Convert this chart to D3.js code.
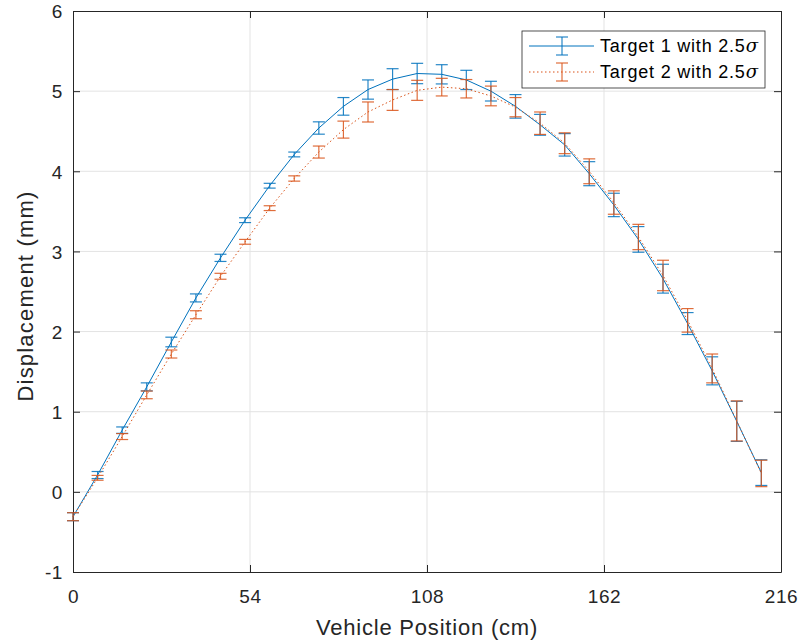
<!DOCTYPE html>
<html>
<head>
<meta charset="utf-8">
<script src="https://cdn.jsdelivr.net/npm/d3@7"></script>
<style>
  body { margin: 0; background: #fff; }
  text { font-family: "Liberation Sans", Arial, sans-serif; }
</style>
</head>
<body>
<div id="chart"></div>
<script>
// Data
const positions = [0, 7.5, 15, 22.5, 30, 37.5, 45, 52.5, 60, 67.5, 75, 82.5, 90, 97.5, 105,
    112.5, 120, 127.5, 135, 142.5, 150, 157.5, 165, 172.5, 180, 187.5, 195, 202.5, 210];
const target1 = [-0.31, 0.21, 0.77, 1.31, 1.87, 2.42, 2.92, 3.39, 3.82, 4.21, 4.54, 4.81, 5.02, 5.15, 5.22,
    5.21, 5.14, 5.00, 4.81, 4.58, 4.33, 3.97, 3.58, 3.15, 2.66, 2.10, 1.51, 0.88, 0.24];
const target1Err = [0.05, 0.044, 0.04, 0.05, 0.06, 0.05, 0.045, 0.03, 0.03, 0.03, 0.077, 0.11, 0.12, 0.13, 0.127,
    0.12, 0.12, 0.123, 0.147, 0.13, 0.14, 0.15, 0.146, 0.16, 0.18, 0.137, 0.175, 0.25, 0.16];
const target2 = [-0.31, 0.175, 0.69, 1.21, 1.72, 2.21, 2.69, 3.12, 3.54, 3.91, 4.24, 4.52, 4.74, 4.89, 5.01,
    5.05, 5.03, 4.94, 4.80, 4.60, 4.35, 4.00, 3.61, 3.18, 2.70, 2.14, 1.54, 0.885, 0.23];
const target2Err = [0.05, 0.03, 0.037, 0.048, 0.05, 0.05, 0.037, 0.03, 0.03, 0.033, 0.075, 0.106, 0.125, 0.13, 0.125,
    0.11, 0.115, 0.123, 0.12, 0.14, 0.13, 0.155, 0.146, 0.158, 0.19, 0.147, 0.18, 0.25, 0.165];
const xTicks = [0, 54, 108, 162, 216];
const yTicks = [-1, 0, 1, 2, 3, 4, 5, 6];
const seriesNames = ["Target 1 with 2.5", "Target 2 with 2.5"];

const WIDTH = 804;
const HEIGHT = 643;
const LEFT = 73, RIGHT = 781, TOP = 11, BOTTOM = 572;
const BLUE = "#0072BD";
const ORANGE = "#D95319";
const AXIS_COLOR = "#262626";
const GRID_COLOR = "#e3e3e3";
const TICK_LEN = 7;
const CAP = 6;

const xScale = d3.scaleLinear().domain([0, 216]).range([LEFT, RIGHT]);
const yScale = d3.scaleLinear().domain([-1, 6]).range([BOTTOM, TOP]);

const svg = d3.select("#chart").append("svg")
    .attr("width", WIDTH)
    .attr("height", HEIGHT);

// Grid
svg.append("g")
    .selectAll("line")
    .data(xTicks.slice(1, -1))
    .join("line")
    .attr("x1", d => xScale(d)).attr("x2", d => xScale(d))
    .attr("y1", TOP).attr("y2", BOTTOM)
    .attr("stroke", GRID_COLOR);
svg.append("g")
    .selectAll("line")
    .data(yTicks.slice(1, -1))
    .join("line")
    .attr("x1", LEFT).attr("x2", RIGHT)
    .attr("y1", d => yScale(d)).attr("y2", d => yScale(d))
    .attr("stroke", GRID_COLOR);

// Axes, ticks pointing inwards like MATLAB
const plainFormat = d => String(d);
const xAxis = svg.append("g")
    .attr("transform", `translate(0, ${BOTTOM})`)
    .call(d3.axisBottom(xScale).tickValues(xTicks).tickFormat(plainFormat)
        .tickSizeInner(-TICK_LEN).tickSizeOuter(0).tickPadding(18));
const xAxisTop = svg.append("g")
    .attr("transform", `translate(0, ${TOP})`)
    .call(d3.axisTop(xScale).tickValues(xTicks).tickSizeInner(-TICK_LEN).tickSizeOuter(0).tickFormat(""));
const yAxis = svg.append("g")
    .attr("transform", `translate(${LEFT}, 0)`)
    .call(d3.axisLeft(yScale).tickValues(yTicks).tickFormat(plainFormat)
        .tickSizeInner(-TICK_LEN).tickSizeOuter(0).tickPadding(10));
const yAxisRight = svg.append("g")
    .attr("transform", `translate(${RIGHT}, 0)`)
    .call(d3.axisRight(yScale).tickValues(yTicks).tickSizeInner(-TICK_LEN).tickSizeOuter(0).tickFormat(""));

[xAxis, xAxisTop, yAxis, yAxisRight].forEach(g => {
    g.select(".domain").attr("stroke", AXIS_COLOR);
    g.selectAll(".tick line").attr("stroke", AXIS_COLOR);
    g.selectAll(".tick text")
        .attr("fill", AXIS_COLOR)
        .style("font-size", "19px")
        .style("letter-spacing", "0.6px")
        .style("font-family", "'Liberation Sans', Arial, sans-serif");
});
yAxis.selectAll(".tick text").attr("dy", "0.36em");

// Axis labels
svg.append("text")
    .attr("x", (LEFT + RIGHT) / 2)
    .attr("y", 635)
    .attr("text-anchor", "middle")
    .attr("fill", AXIS_COLOR)
    .style("font-size", "22px")
    .style("letter-spacing", "0.8px")
    .text("Vehicle Position (cm)");
svg.append("text")
    .attr("transform", `translate(33, 296) rotate(-90)`)
    .attr("text-anchor", "middle")
    .attr("fill", AXIS_COLOR)
    .style("font-size", "22px")
    .style("letter-spacing", "1.2px")
    .text("Displacement (mm)");

function drawSeries(values, errors, color, dash) {
    const points = positions.map((p, i) => ({ x: p, y: values[i], e: errors[i] }));
    const line = d3.line().x(d => xScale(d.x)).y(d => yScale(d.y));
    svg.append("path")
        .datum(points)
        .attr("fill", "none")
        .attr("stroke", color)
        .attr("stroke-width", 1)
        .attr("stroke-dasharray", dash)
        .attr("d", line);

    const bars = svg.append("g")
        .attr("stroke", color)
        .attr("stroke-width", 1.2)
        .attr("stroke-opacity", 0.85);
    bars.selectAll(".stem")
        .data(points)
        .join("line")
        .attr("x1", d => xScale(d.x)).attr("x2", d => xScale(d.x))
        .attr("y1", d => yScale(d.y - d.e)).attr("y2", d => yScale(d.y + d.e));
    bars.selectAll(".capTop")
        .data(points)
        .join("line")
        .attr("x1", d => xScale(d.x) - CAP).attr("x2", d => xScale(d.x) + CAP)
        .attr("y1", d => yScale(d.y + d.e)).attr("y2", d => yScale(d.y + d.e));
    bars.selectAll(".capBottom")
        .data(points)
        .join("line")
        .attr("x1", d => xScale(d.x) - CAP).attr("x2", d => xScale(d.x) + CAP)
        .attr("y1", d => yScale(d.y - d.e)).attr("y2", d => yScale(d.y - d.e));
}

drawSeries(target1, target1Err, BLUE, null);
drawSeries(target2, target2Err, ORANGE, "1.5,2.5");

// Legend
const legend = svg.append("g").attr("transform", "translate(522, 31)");
legend.append("rect")
    .attr("width", 243).attr("height", 57)
    .attr("fill", "#fff")
    .attr("stroke", AXIS_COLOR)
    .attr("stroke-width", 0.8);
const legendColors = [BLUE, ORANGE];
const legendDash = [null, "1.5,2.5"];
seriesNames.forEach((name, i) => {
    const cy = 15 + i * 26;
    const row = legend.append("g").attr("transform", `translate(0, ${cy})`);
    row.append("line")
        .attr("x1", 7).attr("x2", 72)
        .attr("stroke", legendColors[i])
        .attr("stroke-dasharray", legendDash[i]);
    const bar = row.append("g").attr("stroke", legendColors[i]).attr("stroke-width", 1.2).attr("stroke-opacity", 0.85);
    bar.append("line").attr("x1", 40).attr("x2", 40).attr("y1", -9).attr("y2", 9);
    bar.append("line").attr("x1", 34).attr("x2", 46).attr("y1", -9).attr("y2", -9);
    bar.append("line").attr("x1", 34).attr("x2", 46).attr("y1", 9).attr("y2", 9);
    const label = row.append("text")
        .attr("x", 78)
        .attr("dy", "0.35em")
        .attr("fill", "#000")
        .style("font-size", "18px")
        .style("letter-spacing", "0.8px")
        .text(name);
    label.append("tspan")
        .style("font-style", "italic")
        .style("font-family", "'DejaVu Serif', serif")
        .text("σ");
});
</script>
</body>
</html>
